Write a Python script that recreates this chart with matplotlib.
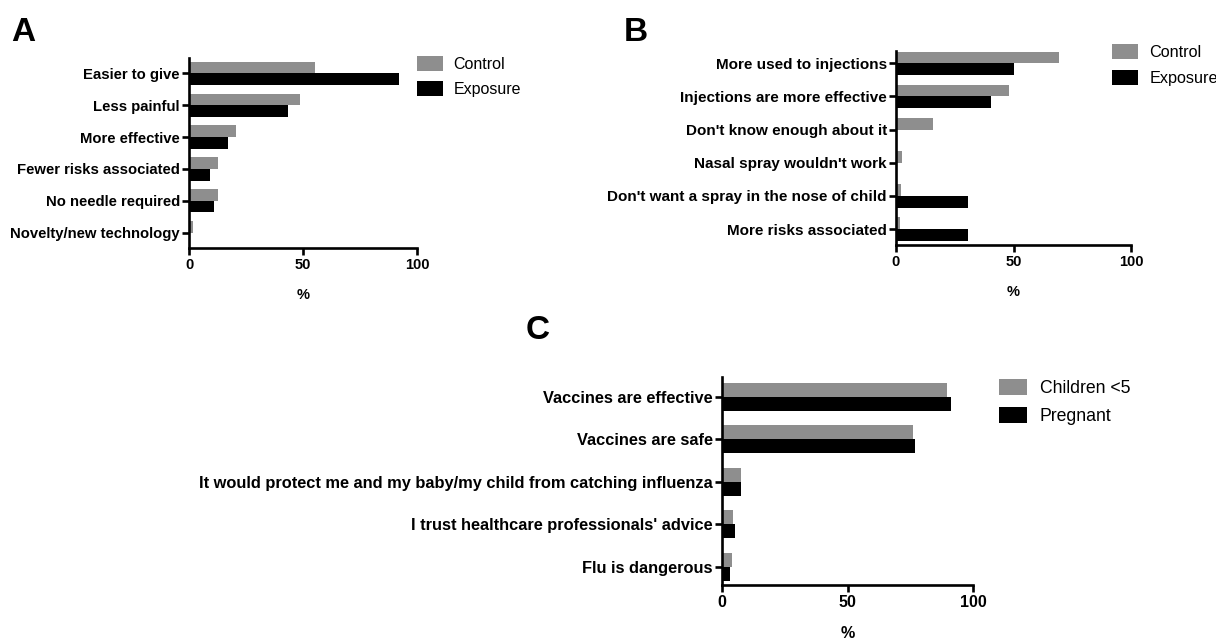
import matplotlib
matplotlib.use("Agg")
import matplotlib.pyplot as plt
import numpy as np

plt.rcParams['font.family'] = ['Liberation Sans', 'DejaVu Sans']

# Panel A - reasons to prefer nasal spray
a_labels = ["Easier to give", "Less painful", "More effective",
            "Fewer risks associated", "No needle required", "Novelty/new technology"]
a_control = [55.3, 48.7, 20.4, 12.9, 12.9, 1.6]
a_exposure = [92.2, 43.6, 17.1, 9.1, 11.1, 0.0]

# Panel B - reasons to prefer injection
b_labels = ["More used to injections", "Injections are more effective",
            "Don't know enough about it", "Nasal spray wouldn't work",
            "Don't want a spray in the nose of child", "More risks associated"]
b_control = [69.4, 48.1, 15.6, 2.7, 2.1, 1.6]
b_exposure = [50.4, 40.4, 0.0, 0.0, 30.5, 30.5]

# Panel C - reasons to accept vaccine
c_labels = ["Vaccines are effective", "Vaccines are safe",
            "It would protect me and my baby/my child from catching influenza",
            "I trust healthcare professionals' advice", "Flu is dangerous"]
c_children = [89.5, 76.2, 7.4, 4.4, 4.0]
c_pregnant = [91.1, 76.9, 7.7, 5.3, 3.1]

W, H = 1216, 641
GRAY = '#8e8e8e'

fig = plt.figure(figsize=(W / 100, H / 100), dpi=100)


def px_axes(left, right, top, bottom):
    return fig.add_axes([left / W, 1 - bottom / H, (right - left) / W, (bottom - top) / H])


def panel(ax, labels, s1, s2, names, h, ylim, leg_xy, fs_lab, fs_tick, fs_leg,
          leg_space=0.6):
    y = np.arange(len(labels))
    ax.barh(y - h / 2, s1, height=h, color=GRAY, label=names[0], zorder=1)
    ax.barh(y + h / 2, s2, height=h, color='black', label=names[1], zorder=1)
    ax.set_yticks(y)
    ax.set_yticklabels(labels, fontsize=fs_lab, fontweight='bold')
    ax.set_ylim(*ylim)
    ax.set_xlim(0, 100)
    ax.set_xticks([0, 50, 100])
    ax.set_xticklabels(['0', '50', '100'], fontsize=fs_tick, fontweight='bold')
    ax.set_xlabel('%', fontsize=fs_tick, fontweight='bold', labelpad=11)
    for side in ['top', 'right']:
        ax.spines[side].set_visible(False)
    for side in ['left', 'bottom']:
        ax.spines[side].set_linewidth(1.9)
        ax.spines[side].set_zorder(3)
    ax.tick_params(axis='both', length=5, width=1.9, pad=1.5, color='black')
    ax.tick_params(axis='x', pad=2.5)
    lx, ly = leg_xy
    ax.legend(loc='upper left', bbox_to_anchor=(lx / W, 1 - ly / H),
              bbox_transform=fig.transFigure, frameon=False, fontsize=fs_leg,
              handlelength=1.6, handleheight=1.03, labelspacing=leg_space,
              handletextpad=0.7, borderpad=0, borderaxespad=0)


ax_a = px_axes(189, 417, 58, 248)
panel(ax_a, a_labels, a_control, a_exposure, ["Control", "Exposure"],
      0.36, (5.47, -0.47), (417, 56), 10.7, 10.5, 11.5)

ax_b = px_axes(896, 1131, 51, 245)
panel(ax_b, b_labels, b_control, b_exposure, ["Control", "Exposure"],
      0.35, (5.48, -0.37), (1112, 44), 11.0, 10.5, 11.7)

ax_c = px_axes(722, 973, 377, 585)
panel(ax_c, c_labels, c_children, c_pregnant, ["Children <5", "Pregnant"],
      0.33, (4.43, -0.47), (999, 379), 11.8, 11.6, 12.7, leg_space=0.54)

# panel letters
fig.text(11 / W, 1 - 41 / H, 'A', fontsize=24, fontweight='bold')
fig.text(624 / W, 1 - 41 / H, 'B', fontsize=24, fontweight='bold')
fig.text(526 / W, 1 - 339 / H, 'C', fontsize=24, fontweight='bold')

fig.savefig('out.png', dpi=100, facecolor='white')
